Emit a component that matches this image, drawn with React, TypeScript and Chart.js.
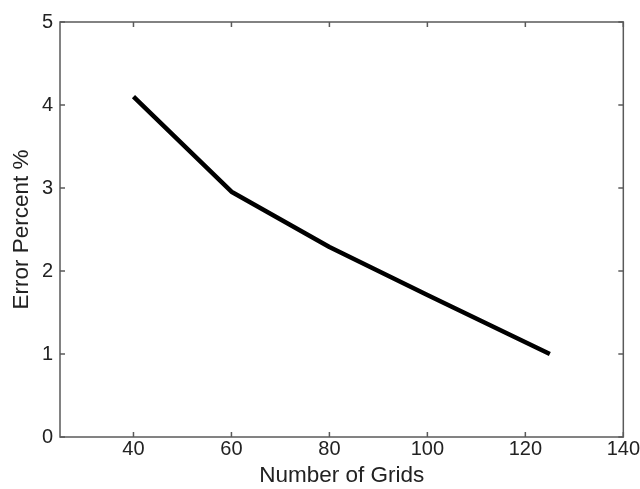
import React, { useEffect, useRef } from "react";
import { Chart, registerables } from "chart.js";

Chart.register(...registerables);

const gridCounts = [40, 60, 80, 100, 125];
const errorPercent = [4.1, 2.955, 2.29, 1.71, 1.0];
const xTickValues = [40, 60, 80, 100, 120, 140];
const yTickValues = [0, 1, 2, 3, 4, 5];
const xTitle = "Number of Grids";
const yTitle = "Error Percent %";

const AXIS_COLOR = "#5a5a5a";
const TEXT_COLOR = "#222222";
const FONT = "'Liberation Sans', Arial, Helvetica, sans-serif";

const boxPlugin = {
  id: "boxTicks",
  afterDraw(chart: any) {
    const { ctx, chartArea, scales } = chart;
    const { left, right, top, bottom } = chartArea;
    ctx.save();
    ctx.strokeStyle = AXIS_COLOR;
    ctx.lineWidth = 1.5;
    ctx.strokeRect(left, top, right - left, bottom - top);
    const len = 5;
    ctx.beginPath();
    xTickValues.forEach((v) => {
      const x = scales.x.getPixelForValue(v);
      ctx.moveTo(x, bottom);
      ctx.lineTo(x, bottom - len);
      ctx.moveTo(x, top);
      ctx.lineTo(x, top + len);
    });
    yTickValues.forEach((v) => {
      const y = scales.y.getPixelForValue(v);
      ctx.moveTo(left, y);
      ctx.lineTo(left + len, y);
      ctx.moveTo(right, y);
      ctx.lineTo(right - len, y);
    });
    ctx.stroke();
    ctx.restore();
  },
};

export default function App() {
  const canvasRef = useRef<HTMLCanvasElement | null>(null);

  useEffect(() => {
    document.body.style.margin = "0";
    const canvas = canvasRef.current;
    if (!canvas) return;
    const chart = new Chart(canvas, {
      type: "line",
      data: {
        datasets: [
          {
            data: gridCounts.map((x, i) => ({ x, y: errorPercent[i] })),
            borderColor: "#000000",
            borderWidth: 4.5,
            pointRadius: 0,
            tension: 0,
            fill: false,
            borderCapStyle: "butt",
            borderJoinStyle: "round",
          },
        ],
      },
      options: {
        responsive: false,
        animation: false,
        layout: { padding: { top: 22, right: 16, bottom: 0, left: 0 } },
        plugins: {
          legend: { display: false },
          tooltip: { enabled: false },
        },
        scales: {
          x: {
            type: "linear",
            min: 25,
            max: 140,
            grid: { display: false, drawTicks: false },
            border: { display: false },
            afterFit: (s: any) => {
              s.height = 52;
            },
            afterBuildTicks: (s: any) => {
              s.ticks = xTickValues.map((v) => ({ value: v }));
            },
            ticks: {
              color: TEXT_COLOR,
              font: { family: FONT, size: 20 },
              padding: 0,
              maxRotation: 0,
              autoSkip: false,
            },
            title: {
              display: true,
              text: xTitle,
              color: TEXT_COLOR,
              font: { family: FONT, size: 22.5 },
              padding: { top: 0, bottom: 0 },
            },
          },
          y: {
            type: "linear",
            min: 0,
            max: 5,
            grid: { display: false, drawTicks: false },
            border: { display: false },
            afterFit: (s: any) => {
              s.width = 60;
            },
            afterBuildTicks: (s: any) => {
              s.ticks = yTickValues.map((v) => ({ value: v }));
            },
            ticks: {
              color: TEXT_COLOR,
              font: { family: FONT, size: 20 },
              padding: 7,
              autoSkip: false,
            },
            title: {
              display: true,
              text: yTitle,
              color: TEXT_COLOR,
              font: { family: FONT, size: 22.5 },
              padding: { top: 8, bottom: 0 },
            },
          },
        },
      },
      plugins: [boxPlugin],
    });
    return () => chart.destroy();
  }, []);

  return (
    <div style={{ width: 640, height: 489, background: "#ffffff" }}>
      <canvas ref={canvasRef} width={640} height={489} />
    </div>
  );
}
